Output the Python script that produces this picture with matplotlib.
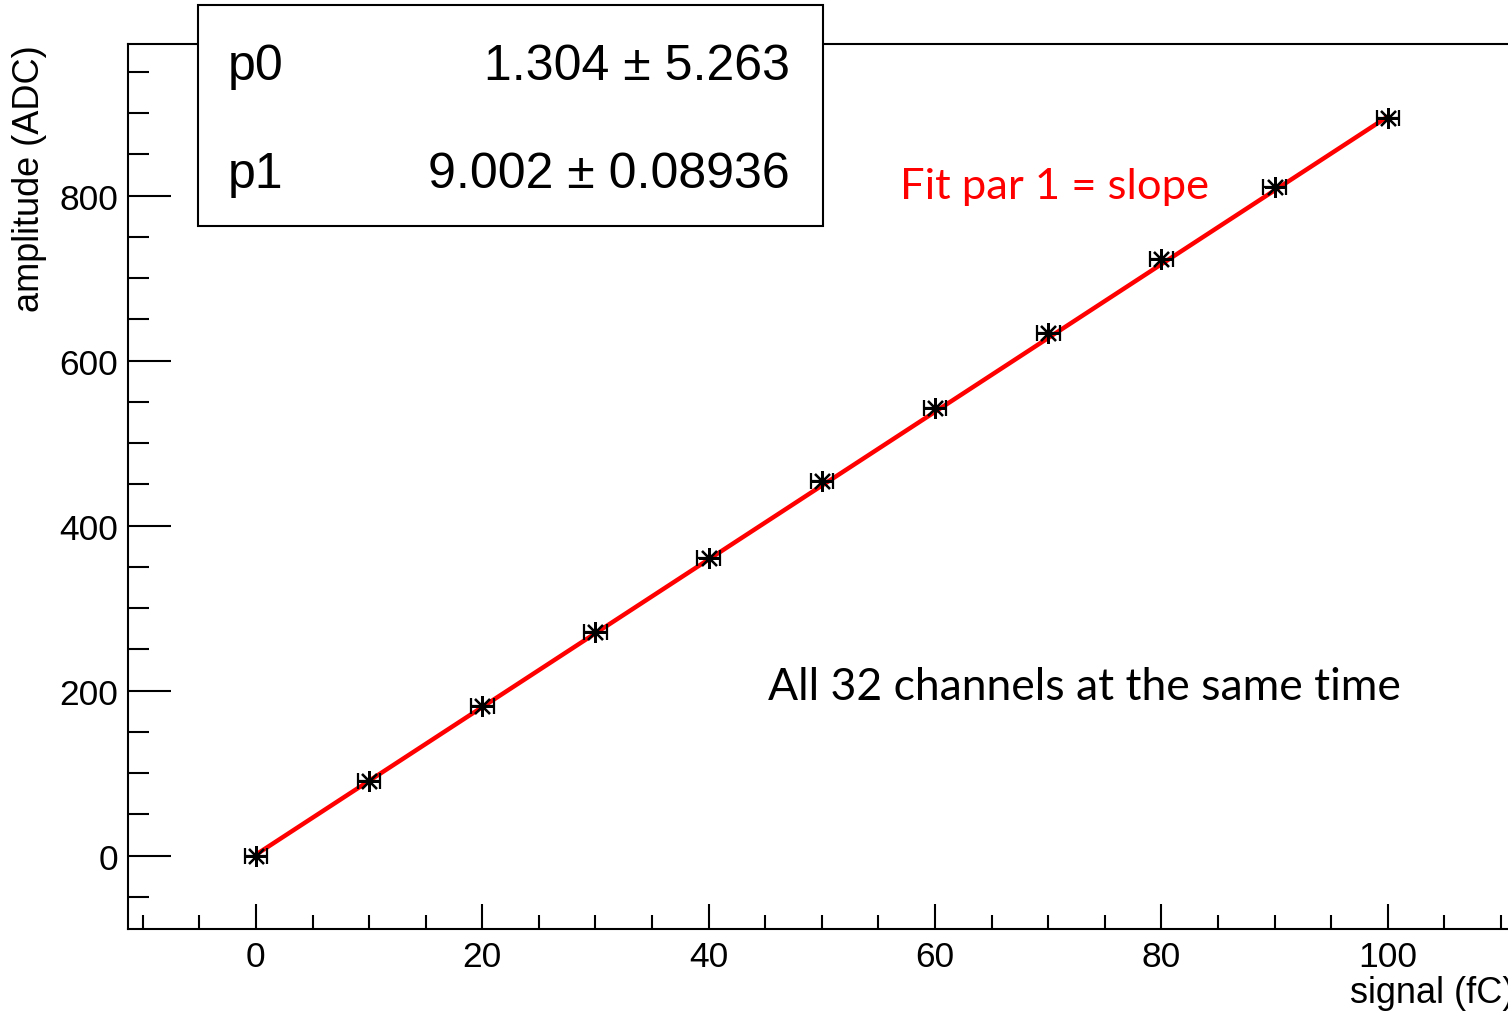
import matplotlib
matplotlib.use("Agg")
import matplotlib.pyplot as plt
from matplotlib.patches import Rectangle
from matplotlib.ticker import MultipleLocator

# calibration points
signal = [0, 10, 20, 30, 40, 50, 60, 70, 80, 90, 100]
amplitude = [0, 90, 182, 271, 361, 454, 543, 633, 723, 810, 894]
signal_err = [1.0] * len(signal)

# fitted straight line as drawn
fit_x = [0, 100]
fit_y = [1.3, 896]

par_names = ["p0", "p1"]
par_values = ["1.304 \u00b1 5.263", "9.002 \u00b1 0.08936"]

W, H = 1508, 1012
plt.rcParams["font.family"] = ["Liberation Sans", "DejaVu Sans"]

fig = plt.figure(figsize=(W / 100, H / 100), dpi=100)


def fx(px):
    return px / W


def fy(py):
    return 1 - py / H


x_lo, x_hi = -11.3, 111.5
y_lo, y_hi = -88.8, 983.9
ax_left, ax_right, ax_top, ax_bottom = 128, 1518, 45, 930
ax = fig.add_axes([fx(ax_left), fy(ax_bottom), (ax_right - ax_left) / W, (ax_bottom - ax_top) / H])

ax.plot(fit_x, fit_y, color="red", lw=3.2, zorder=2)
ax.errorbar(signal, amplitude, xerr=signal_err, fmt="none",
            ecolor="black", elinewidth=1.6, capsize=5.5, capthick=1.6, zorder=3)
ax.plot(signal, amplitude, linestyle="none", marker=(8, 2, 0), markersize=15,
        markeredgewidth=1.6, color="black", zorder=4)

ax.set_xlim(x_lo, x_hi)
ax.set_ylim(y_lo, y_hi)
ax.xaxis.set_major_locator(MultipleLocator(20))
ax.xaxis.set_minor_locator(MultipleLocator(5))
ax.yaxis.set_major_locator(MultipleLocator(200))
ax.yaxis.set_minor_locator(MultipleLocator(50))
ax.tick_params(axis="both", which="both", direction="in", top=False, right=False,
               width=1.5, labelsize=25.5)
ax.tick_params(axis="y", which="major", length=31, pad=7)
ax.tick_params(axis="y", which="minor", length=15)
ax.tick_params(axis="x", which="major", length=18, pad=8)
ax.tick_params(axis="x", which="minor", length=10)
for s in ax.spines.values():
    s.set_linewidth(1.5)

# axis titles, ROOT style: aligned to the far end of the axis (x title runs off the edge as in the original)
fig.text(fx(30), fy(45), "amplitude (ADC)", rotation=90, ha="center", va="top", fontsize=26)
fig.text(fx(1350), fy(1003), "signal (fC)", ha="left", va="baseline", fontsize=26)

# fit statistics box
fig.add_artist(Rectangle((fx(198), fy(227)), (823 - 198) / W, (227 - 6) / H,
                         transform=fig.transFigure, facecolor="white", edgecolor="black",
                         linewidth=1.5, zorder=5))
for i, (name, val) in enumerate(zip(par_names, par_values)):
    base = 80 + i * 108
    fig.text(fx(228), fy(base), name, ha="left", va="baseline", fontsize=36, zorder=6)
    fig.text(fx(790), fy(base), val, ha="right", va="baseline", fontsize=36, zorder=6)

fig.text(fx(900), fy(187), "Fit par 1 = slope", color="red", ha="left", va="center",
         fontsize=31.3, family=["Lato", "DejaVu Sans"])
fig.text(fx(768), fy(688), "All 32 channels at the same time", color="black", ha="left",
         va="center", fontsize=32, family=["Lato", "DejaVu Sans"])

fig.savefig("out.png", dpi=100)
